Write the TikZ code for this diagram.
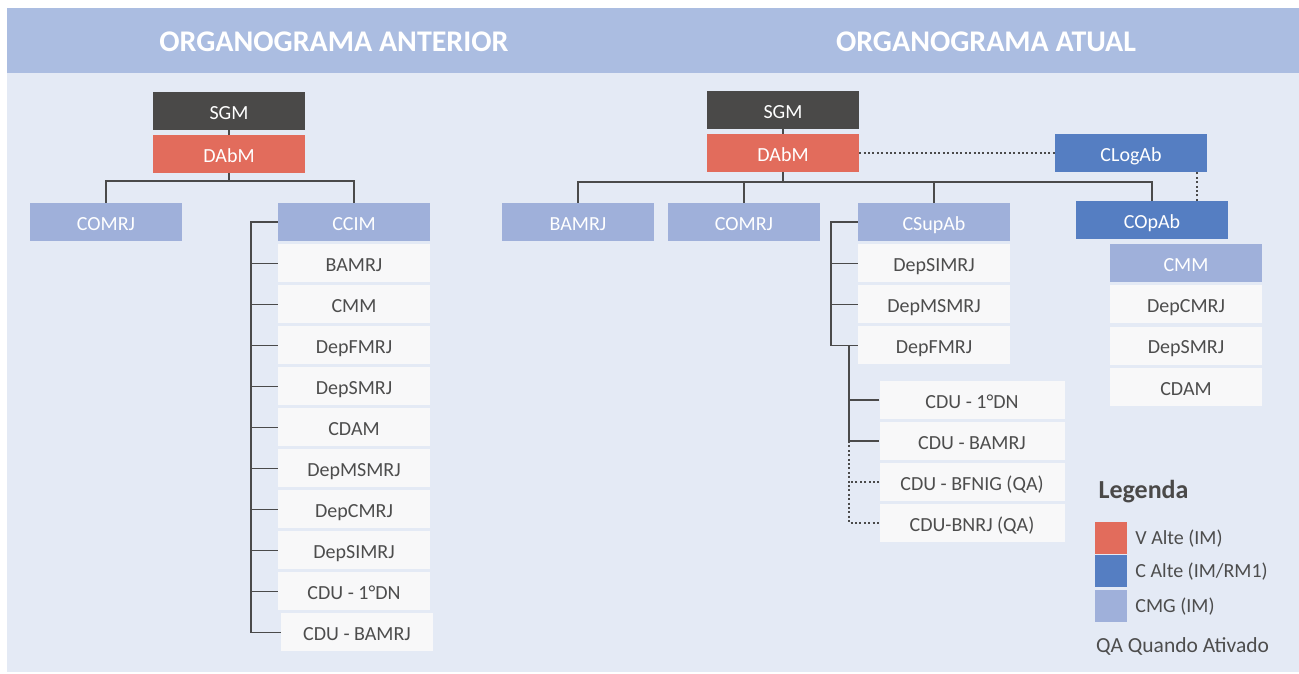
\documentclass[tikz,border=0pt]{standalone}
\usepackage{fontspec}
\setmainfont{Carlito}
\usetikzlibrary{positioning}

\definecolor{bgblue}{HTML}{E4EAF5}
\definecolor{headblue}{HTML}{ABBDE1}
\definecolor{sgmgray}{HTML}{4A4948}
\definecolor{vred}{HTML}{E26C5C}
\definecolor{cblue}{HTML}{557EC2}
\definecolor{cmgblue}{HTML}{9FB0DA}
\definecolor{boxwhite}{HTML}{F8F8F9}
\definecolor{linegray}{HTML}{4A4A4A}
\definecolor{txtgray}{HTML}{4D4D4D}

\tikzset{
  unit/.style={minimum width=152pt, minimum height=38pt, inner sep=0pt, text height=16pt, text depth=0pt, font=\fontsize{20}{24}\selectfont},
  sgmbox/.style={unit, fill=sgmgray, text=white},
  redbox/.style={unit, fill=vred, text=white},
  bluebox/.style={unit, fill=cblue, text=white},
  cmgbox/.style={unit, fill=cmgblue, text=white},
  plainbox/.style={unit, fill=boxwhite, text=txtgray},
  link/.style={draw=linegray, line width=1.8pt},
  qalink/.style={draw=linegray, line width=2pt, dash pattern=on 2pt off 2.4pt},
  title/.style={text=white, font=\fontsize{30}{36}\selectfont\bfseries},
  swatch/.style={minimum size=32pt, inner sep=0pt},
  legtext/.style={text=txtgray, inner sep=0pt, text height=13pt, text depth=0pt, font=\fontsize{20}{24}\selectfont},
}

\begin{document}
\begin{tikzpicture}[x=1pt,y=-1pt]
\useasboundingbox (0,0) rectangle (1299,673);
\fill[bgblue] (7,8) rectangle (1299,672);
\fill[headblue] (7,8) rectangle (1299,73);
\node[title, anchor=base] (titleL) at (334,51) {ORGANOGRAMA ANTERIOR};
\node[title, anchor=base] (titleR) at (986,51) {ORGANOGRAMA ATUAL};

% anterior
\node[sgmbox] (sgmL) at (229,111) {SGM};
\node[redbox] (dabmL) at (229,154) {DAbM};
\node[cmgbox] (comrjL) at (106,222) {COMRJ};
\node[cmgbox] (ccimL) at (354,222) {CCIM};
\node[plainbox, below=3pt of ccimL] (bamrjL) {BAMRJ};
\node[plainbox, below=2.6pt of bamrjL] (cmmL) {CMM};
\node[plainbox, below=2.6pt of cmmL] (depfmrjL) {DepFMRJ};
\node[plainbox, below=2.6pt of depfmrjL] (depsmrjL) {DepSMRJ};
\node[plainbox, below=2.6pt of depsmrjL] (cdamL) {CDAM};
\node[plainbox, below=2.6pt of cdamL] (depmsmrjL) {DepMSMRJ};
\node[plainbox, below=2.6pt of depmsmrjL] (depcmrjL) {DepCMRJ};
\node[plainbox, below=2.6pt of depcmrjL] (depsimrjL) {DepSIMRJ};
\node[plainbox, below=2.6pt of depsimrjL] (cdu1L) {CDU - 1°DN};
\node[plainbox, below=2.6pt of cdu1L, xshift=3pt] (cdubL) {CDU - BAMRJ};

\coordinate (busL) at (0,181);
\coordinate (spineL) at (251,0);
\draw[link] (sgmL.south) -- (dabmL.north);
\draw[link] (dabmL.south) -- (dabmL.south |- busL);
\draw[link] (comrjL.north) |- (busL -| ccimL.north) -- (ccimL.north);
\draw[link] (ccimL.west) -| (spineL |- cdubL.west) -- (cdubL.west);
\draw[link] (bamrjL.west) -- (bamrjL.west -| spineL);
\draw[link] (cmmL.west) -- (cmmL.west -| spineL);
\draw[link] (depfmrjL.west) -- (depfmrjL.west -| spineL);
\draw[link] (depsmrjL.west) -- (depsmrjL.west -| spineL);
\draw[link] (cdamL.west) -- (cdamL.west -| spineL);
\draw[link] (depmsmrjL.west) -- (depmsmrjL.west -| spineL);
\draw[link] (depcmrjL.west) -- (depcmrjL.west -| spineL);
\draw[link] (depsimrjL.west) -- (depsimrjL.west -| spineL);
\draw[link] (cdu1L.west) -- (cdu1L.west -| spineL);

% atual
\node[sgmbox] (sgmR) at (783,110) {SGM};
\node[redbox] (dabmR) at (783,153) {DAbM};
\node[bluebox] (clogab) at (1131,153) {CLogAb};
\node[cmgbox] (bamrjR) at (578,222) {BAMRJ};
\node[cmgbox] (comrjR) at (744,222) {COMRJ};
\node[cmgbox] (csupab) at (934,222) {CSupAb};
\node[bluebox] (copab) at (1152,220) {COpAb};
\node[cmgbox] (cmmR) at (1186,263) {CMM};
\node[plainbox, below=3pt of cmmR] (depcmrjR) {DepCMRJ};
\node[plainbox, below=3pt of depcmrjR] (depsmrjR) {DepSMRJ};
\node[plainbox, below=3pt of depsmrjR] (cdamR) {CDAM};
\node[plainbox, below=3pt of csupab] (depsimrjR) {DepSIMRJ};
\node[plainbox, below=2.6pt of depsimrjR] (depmsmrjR) {DepMSMRJ};
\node[plainbox, below=2.6pt of depmsmrjR] (depfmrjR) {DepFMRJ};
\node[plainbox, minimum width=185pt] (cdu1R) at (972,400) {CDU - 1°DN};
\node[plainbox, minimum width=185pt, below=2.6pt of cdu1R] (cdubR) {CDU - BAMRJ};
\node[plainbox, minimum width=185pt, below=2.6pt of cdubR] (cdubfnig) {CDU - BFNIG (QA)};
\node[plainbox, minimum width=185pt, below=2.6pt of cdubfnig] (cdubnrj) {CDU-BNRJ (QA)};

\coordinate (busR) at (0,182);
\coordinate (spineR) at (831,0);
\coordinate (spineRR) at (849,0);
\draw[link] (sgmR.south) -- (dabmR.north);
\draw[link] (dabmR.south) -- (dabmR.south |- busR);
\draw[link] (bamrjR.north) |- (busR -| copab.north) -- (copab.north);
\draw[link] (comrjR.north) -- (comrjR.north |- busR);
\draw[link] (csupab.north) -- (csupab.north |- busR);
\draw[qalink] (dabmR.east) -- (clogab.west);
\draw[qalink] ([xshift=45pt]copab.north) -- ([xshift=45pt]copab.north |- clogab.south);
\draw[link] (csupab.west) -| (spineR |- depfmrjR.west) -- (depfmrjR.west);
\draw[link] (depsimrjR.west) -- (depsimrjR.west -| spineR);
\draw[link] (depmsmrjR.west) -- (depmsmrjR.west -| spineR);
\draw[link] (spineRR |- depfmrjR.west) |- (cdubR.west);
\draw[link] (cdu1R.west) -- (cdu1R.west -| spineRR);
\draw[qalink] (spineRR |- cdubR.west) |- (cdubnrj.west);
\draw[qalink] (cdubfnig.west) -- (cdubfnig.west -| spineRR);

% legenda
\node[anchor=base west, text=sgmgray, font=\fontsize{26}{30}\selectfont\bfseries] (legenda) at (1095,498) {Legenda};
\node[swatch, fill=vred] (swV) at (1111,538) {};
\node[swatch, fill=cblue, below=1pt of swV] (swC) {};
\node[swatch, fill=cmgblue, below=2pt of swC] (swM) {};
\node[legtext, right=8pt of swV] (legV) {V Alte (IM)};
\node[legtext, right=8pt of swC] (legC) {C Alte (IM/RM1)};
\node[legtext, right=8pt of swM] (legM) {CMG (IM)};
\node[legtext, anchor=base west, font=\fontsize{21.5}{26}\selectfont] (legQA) at (1096,652) {QA Quando Ativado};
\end{tikzpicture}
\end{document}
